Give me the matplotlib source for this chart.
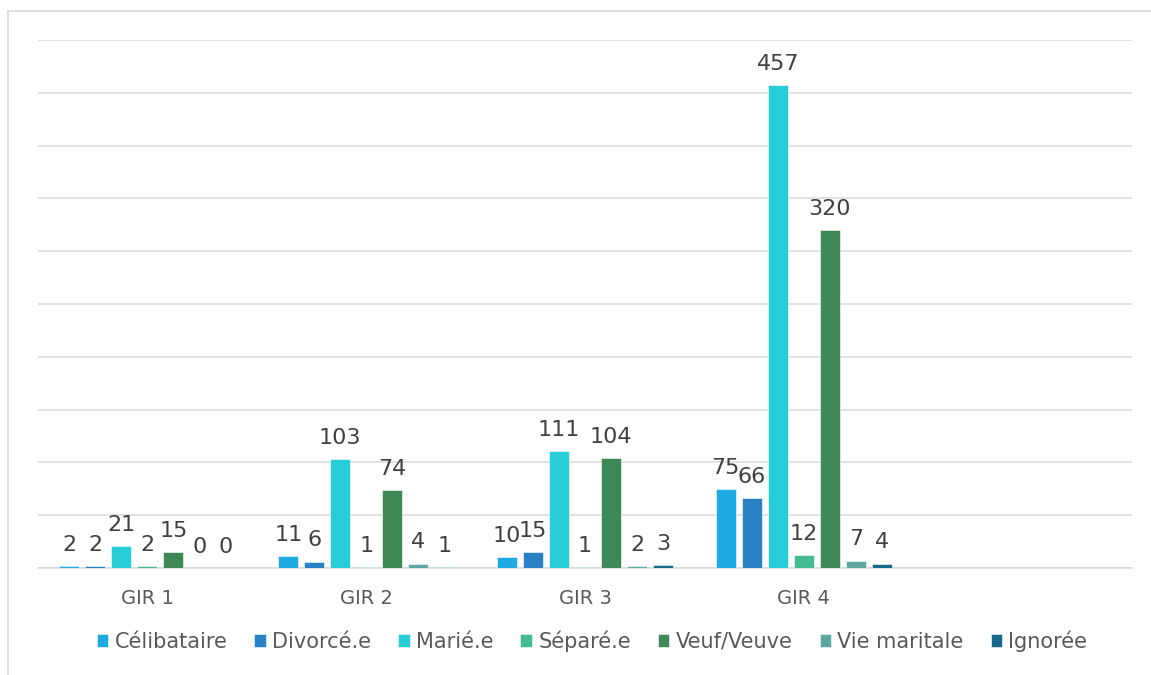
import matplotlib
matplotlib.use("Agg")
import matplotlib.pyplot as plt
from matplotlib.lines import Line2D
import numpy as np

plt.rcParams['font.family'] = ['DejaVu Sans']

categories = ["GIR 1", "GIR 2", "GIR 3", "GIR 4", ""]
series_names = ["Célibataire", "Divorcé.e", "Marié.e", "Séparé.e",
                "Veuf/Veuve", "Vie maritale", "Ignorée"]
celibataire = [2, 11, 10, 75]
divorce = [2, 6, 15, 66]
marie = [21, 103, 111, 457]
separe = [2, 1, 1, 12]
veuf = [15, 74, 104, 320]
vie_maritale = [0, 4, 2, 7]
ignoree = [0, 1, 3, 4]
series_values = [celibataire, divorce, marie, separe, veuf, vie_maritale, ignoree]
colors = ["#1EAAE2", "#2881C5", "#28CED7", "#44BA95", "#3D8855", "#5FA7A2", "#16688C"]

fig = plt.figure(figsize=(11.51, 6.75), dpi=100)
ax = fig.add_axes([38 / 1151, (675 - 568) / 675, (1132 - 38) / 1151, (568 - 40) / 675])

n = len(series_names)
pitch = 26 / 218.8
width = 20 / 218.8
x = np.arange(len(series_values[0]))
for i, (name, vals, c) in enumerate(zip(series_names, series_values, colors)):
    pos = x + (i - (n - 1) / 2) * pitch
    bars = ax.bar(pos, vals, width, color=c, label=name, zorder=3,
                  edgecolor="white", linewidth=0.4)
    for b, v in zip(bars, vals):
        ax.annotate(str(v), (b.get_x() + b.get_width() / 2, v),
                    xytext=(0, 11), textcoords="offset points",
                    ha="center", va="baseline", fontsize=16, color="#404040")

ax.set_xlim(-0.5, len(categories) - 0.5)
ax.set_ylim(0, 500)
ax.set_yticks(np.arange(0, 501, 50))
ax.set_yticklabels([])
ax.tick_params(axis="y", length=0)
ax.grid(axis="y", color="#D9D9D9", linewidth=1.1, zorder=0)
ax.set_xticks(np.arange(len(categories)))
ax.set_xticklabels(categories, fontsize=14, color="#595959")
ax.tick_params(axis="x", length=0, pad=15)
for s in ["top", "right", "left"]:
    ax.spines[s].set_visible(False)
ax.spines["bottom"].set_color("#D9D9D9")
ax.spines["bottom"].set_linewidth(1.1)

leg = fig.legend(loc="center", bbox_to_anchor=(592 / 1151, 1 - 641 / 675), ncol=7,
                 frameon=False, fontsize=15, handlelength=0.55, handleheight=0.55,
                 handletextpad=0.3, columnspacing=1.3, labelcolor="#595959")

# outer frame
fig.add_artist(Line2D([8 / 1151, 1], [1 - 11 / 675, 1 - 11 / 675],
                      transform=fig.transFigure, color="#D9D9D9", linewidth=1.2))
fig.add_artist(Line2D([8 / 1151, 8 / 1151], [0, 1 - 11 / 675],
                      transform=fig.transFigure, color="#D9D9D9", linewidth=1.2))

fig.savefig("out.png", dpi=100)
